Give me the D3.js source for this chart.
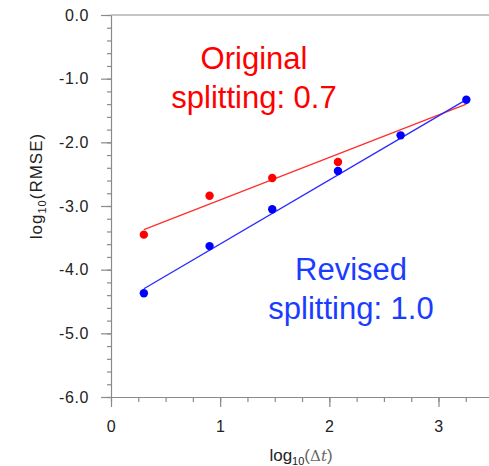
<!DOCTYPE html>
<html>
<head>
<meta charset="utf-8">
<script src="https://cdn.jsdelivr.net/npm/d3@7"></script>
<style>
body { margin: 0; background: #fff; }
svg { display: block; font-family: "Liberation Sans", Arial, Helvetica, sans-serif; }
.axis path, .axis line { stroke: #8a8a8a; stroke-width: 1.2; }
.axis text { fill: #222; font-size: 16px; letter-spacing: 0.6px; }
</style>
</head>
<body>
<script>
// log10(dt) of each run
var dtLog = [0.301, 0.903, 1.477, 2.079, 2.653, 3.255];

// log10(RMSE), original splitting (4 runs only)
var originalErr = [-3.45, -2.84, -2.56, -2.31];
// log10(RMSE), revised splitting
var revisedErr = [-4.37, -3.63, -3.05, -2.45, -1.89, -1.33];

// fitted lines (end points)
var fitX = [0.301, 3.255];
var originalFit = [-3.37, -1.40];
var revisedFit = [-4.30, -1.33];

var xTicks = [0, 1, 2, 3];
var yTicks = [0, -1, -2, -3, -4, -5, -6];

var svgWidth = 489;
var svgHeight = 466;

var margin = { top: 15, left: 111 };
var height = 382;
var width = 393;

var svg = d3.select("body")
    .append("svg")
    .attr("width", svgWidth)
    .attr("height", svgHeight);

var chartGroup = svg.append("g")
    .attr("transform", `translate(${margin.left}, ${margin.top})`);

var xScale = d3.scaleLinear()
    .domain([0, 3.6])
    .range([0, width]);

var yScale = d3.scaleLinear()
    .domain([-6, 0])
    .range([height, 0]);

// minor ticks first
chartGroup.append("g")
    .attr("class", "axis")
    .attr("transform", `translate(0, ${height})`)
    .call(d3.axisBottom(xScale).tickValues(d3.range(0, 3.6, 0.25)).tickSize(5).tickFormat(""))
    .call(g => g.select(".domain").remove());

chartGroup.append("g")
    .attr("class", "axis")
    .call(d3.axisLeft(yScale).tickValues(d3.range(-6, 0.01, 0.2)).tickSize(4).tickFormat(""))
    .call(g => g.select(".domain").remove());

// major ticks + labels
chartGroup.append("g")
    .attr("class", "axis")
    .attr("transform", `translate(0, ${height})`)
    .call(d3.axisBottom(xScale).tickValues(xTicks).tickSize(10).tickSizeOuter(0).tickPadding(14)
        .tickFormat(d3.format("d")));

chartGroup.append("g")
    .attr("class", "axis")
    .call(d3.axisLeft(yScale).tickValues(yTicks).tickSize(10).tickSizeOuter(0).tickPadding(12)
        .tickFormat(d => d.toFixed(1)));

// top frame line
chartGroup.append("line")
    .attr("x1", 0)
    .attr("x2", width)
    .attr("y1", yScale(0))
    .attr("y2", yScale(0))
    .attr("stroke", "#8a8a8a")
    .attr("stroke-width", 1.2);

// axis titles
var xTitle = svg.append("text")
    .attr("x", 301)
    .attr("y", 461)
    .attr("text-anchor", "middle")
    .style("font-size", "17px")
    .style("fill", "#222");
xTitle.append("tspan").text("log");
xTitle.append("tspan").attr("dy", 4).style("font-size", "11px").text("10");
xTitle.append("tspan").attr("dy", -4).style("fill", "#666").text("(");
xTitle.append("tspan").style("fill", "#666").style("font-family", "DejaVu Serif").style("font-size", "15px").text("\u0394");
xTitle.append("tspan").style("fill", "#666").style("font-family", "DejaVu Serif").style("font-style", "italic").style("font-size", "15px").text("t");
xTitle.append("tspan").style("fill", "#666").text(")");

var yTitle = svg.append("text")
    .attr("transform", "translate(42, 186) rotate(-90)")
    .attr("text-anchor", "middle")
    .style("font-size", "17px")
    .style("letter-spacing", "1px")
    .style("fill", "#222");
yTitle.append("tspan").text("log");
yTitle.append("tspan").attr("dy", 4).style("font-size", "11px").text("10");
yTitle.append("tspan").attr("dy", -4).text("(RMSE)");

// fit lines
var line = d3.line()
    .x(d => xScale(d[0]))
    .y(d => yScale(d[1]));

chartGroup.append("path")
    .attr("d", line(d3.zip(fitX, originalFit)))
    .attr("fill", "none")
    .attr("stroke", "#ff3030")
    .attr("stroke-width", 1.4);

chartGroup.append("path")
    .attr("d", line(d3.zip(fitX, revisedFit)))
    .attr("fill", "none")
    .attr("stroke", "#2a2aff")
    .attr("stroke-width", 1.4);

// points
chartGroup.selectAll(".orig")
    .data(originalErr)
    .enter()
    .append("circle")
    .attr("cx", (d, i) => xScale(dtLog[i]))
    .attr("cy", d => yScale(d))
    .attr("r", 4.2)
    .attr("fill", "#ff0000");

chartGroup.selectAll(".rev")
    .data(revisedErr)
    .enter()
    .append("circle")
    .attr("cx", (d, i) => xScale(dtLog[i]))
    .attr("cy", d => yScale(d))
    .attr("r", 4.2)
    .attr("fill", "#0000ff");

// annotations
var labels = [
    { lines: ["Original", "splitting: 0.7"], x: 254, y: 69, color: "#ff0000" },
    { lines: ["Revised", "splitting: 1.0"], x: 351, y: 280, color: "#1a3cff" }
];

labels.forEach(function(lab) {
    var t = svg.append("text")
        .attr("text-anchor", "middle")
        .style("font-size", "31px")
        .style("fill", lab.color);
    lab.lines.forEach(function(s, i) {
        t.append("tspan")
            .attr("x", lab.x)
            .attr("y", lab.y + i * 39)
            .text(s);
    });
});
</script>
</body>
</html>
